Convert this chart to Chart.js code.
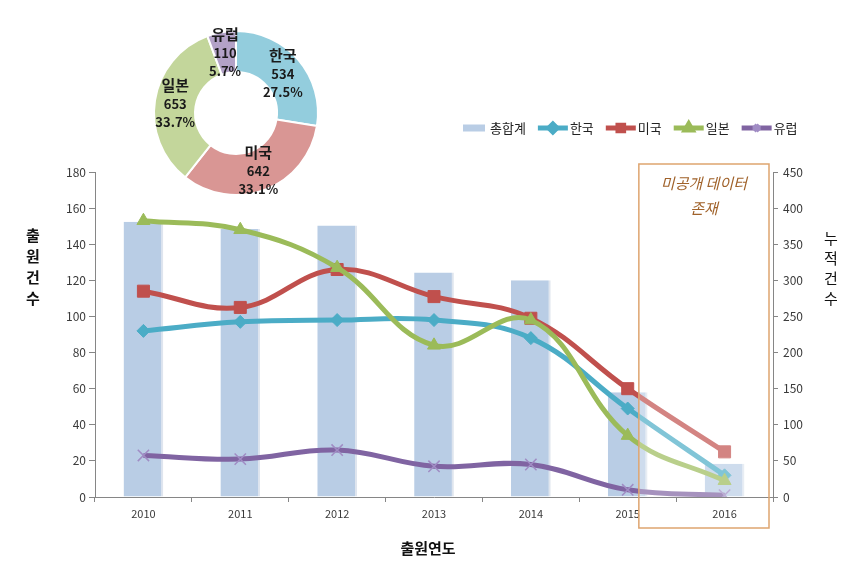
<!DOCTYPE html>
<html><head><meta charset="utf-8">
<script src="https://cdn.jsdelivr.net/npm/chart.js@4.4.1/dist/chart.umd.min.js"></script>
<style>
html,body{margin:0;padding:0;background:#fff;}
#wrap{position:relative;width:856px;height:569px;overflow:hidden;}
#main{position:absolute;left:0;top:0;}
#pie{position:absolute;left:116px;top:3px;}
</style></head><body>
<div id="wrap"><canvas id="main" width="856" height="569"></canvas><canvas id="pie" width="240" height="220"></canvas></div>
<script>
// ---- data ----
const years = ['2010','2011','2012','2013','2014','2015','2016'];
const seriesNames = ['총합계','한국','미국','일본','유럽'];
const totalCounts = [381,371,376,311,300,145,46];
const korea  = [92,97,98,98,88,49,12];
const usa    = [114,105,126,111,99,60,25];
const japan  = [153,148,127,84,98,34,9];
const europe = [23,21,26,17,18,4,1];
const pieLabels = ['한국','미국','일본','유럽'];
const pieValues = [534,642,653,110];
const leftTitle = '출원건수';
const rightTitle = '누적건수';
const xTitle = '출원연도';
const noteLines = ['미공개 데이터','존재'];

const FONT = '"Noto Sans CJK KR", "Noto Sans", sans-serif';
Chart.defaults.font.family = FONT;
const AXIS = '#868686';
const TICK = '#3a3a3a';
const COLORS = {bar:'#b9cde5', kr:'#4bacc6', us:'#c0504d', jp:'#9bbb59', eu:'#8064a2'};

const overlayPlugin = {
  id:'overlay',
  afterDatasetsDraw(chart){
    const {ctx, chartArea, scales} = chart;
    const x = scales.x;
    const step = x.getPixelForValue(1) - x.getPixelForValue(0);
    const left = x.getPixelForValue(5) + step*0.115;
    const right = chartArea.right - 4;
    const top = chartArea.top - 8;
    const bottom = chartArea.bottom + 31;
    ctx.save();
    ctx.fillStyle = 'rgba(255,255,255,0.3)';
    ctx.fillRect(left, top, right-left, chartArea.bottom - top);
    ctx.strokeStyle = '#dea56f';
    ctx.lineWidth = 1.5;
    ctx.strokeRect(left, top, right-left, bottom-top);
    ctx.fillStyle = '#a0622a';
    ctx.font = 'italic 15px ' + FONT;
    ctx.textAlign = 'center'; ctx.textBaseline = 'middle';
    const cx = (left+right)/2;
    ctx.fillText(noteLines[0], cx, top+19);
    ctx.fillText(noteLines[1], cx, top+44);
    ctx.restore();
  }
};

const legendPlugin = {
  id:'customLegend',
  afterDraw(chart){
    const ctx = chart.ctx;
    ctx.save();
    ctx.font = '13px ' + FONT;
    ctx.textBaseline = 'middle'; ctx.textAlign = 'left';
    let x = 463; const y = 128;
    chart.data.datasets.forEach(ds => {
      if (ds.type === 'bar') {
        ctx.fillStyle = ds.backgroundColor;
        ctx.fillRect(x, y-3.5, 22, 7);
        x += 27;
      } else {
        ctx.strokeStyle = ds.borderColor;
        ctx.lineWidth = 5;
        ctx.beginPath(); ctx.moveTo(x, y); ctx.lineTo(x+30, y); ctx.stroke();
        ctx.fillStyle = ds.pointBackgroundColor;
        ctx.strokeStyle = ds.pointBorderColor;
        Chart.helpers.drawPoint(ctx, {pointStyle: ds.pointStyle, radius: 4, rotation: 0, borderWidth: 1}, x+15, y);
        x += 32;
      }
      ctx.fillStyle = '#222';
      ctx.fillText(ds.label, x, y);
      x += ctx.measureText(ds.label).width + 12;
    });
    ctx.restore();
  }
};

const titlesPlugin = {
  id:'titles',
  afterDraw(chart){
    const {ctx, chartArea} = chart;
    ctx.save();
    ctx.fillStyle = '#111';
    ctx.textAlign = 'center'; ctx.textBaseline = 'middle';
    ctx.font = 'bold 15px ' + FONT;
    [...leftTitle].forEach((c,i) => ctx.fillText(c, 33, 235 + i*21));
    ctx.fillText(xTitle, (chartArea.left+chartArea.right)/2 - 6, 548);
    ctx.font = '15px ' + FONT;
    [...rightTitle].forEach((c,i) => ctx.fillText(c, 831, 238 + i*20));
    ctx.restore();
  }
};

new Chart(document.getElementById('main'), {
  type:'bar',
  data:{
    labels: years,
    datasets:[
      {type:'bar', label:seriesNames[0], data:totalCounts, yAxisID:'y2', backgroundColor:COLORS.bar,
       borderColor:'#dfe5ee', borderWidth:{top:0,right:2,bottom:0,left:0}, barPercentage:0.41, categoryPercentage:1, order:10},
      {type:'line', label:seriesNames[1], data:korea, yAxisID:'y', borderColor:COLORS.kr, backgroundColor:COLORS.kr,
       borderWidth:5, tension:0.4, pointStyle:'rectRot', pointRadius:6.5, pointBackgroundColor:COLORS.kr, pointBorderColor:COLORS.kr, pointBorderWidth:1, order:3},
      {type:'line', label:seriesNames[2], data:usa, yAxisID:'y', borderColor:COLORS.us, backgroundColor:COLORS.us,
       borderWidth:5, tension:0.4, pointStyle:'rect', pointRadius:8.5, pointBackgroundColor:COLORS.us, pointBorderColor:COLORS.us, pointBorderWidth:1, order:2},
      {type:'line', label:seriesNames[3], data:japan, yAxisID:'y', borderColor:COLORS.jp, backgroundColor:COLORS.jp,
       borderWidth:5, tension:0.4, pointStyle:'triangle', pointRadius:7.5, pointBackgroundColor:COLORS.jp, pointBorderColor:COLORS.jp, pointBorderWidth:1, order:1},
      {type:'line', label:seriesNames[4], data:europe, yAxisID:'y', borderColor:COLORS.eu, backgroundColor:COLORS.eu,
       borderWidth:5, tension:0.4, pointStyle:'crossRot', pointRadius:8, pointBackgroundColor:'#a08cc4', pointBorderColor:'#a08cc4', pointBorderWidth:1.5, order:4}
    ]
  },
  options:{
    responsive:false, animation:false,
    layout:{padding:{top:172,left:0,right:0,bottom:0}},
    plugins:{legend:{display:false}, tooltip:{enabled:false}},
    scales:{
      x:{grid:{display:true, drawOnChartArea:false, drawTicks:true, tickLength:5, color:AXIS, offset:true},
         border:{color:AXIS}, ticks:{font:{size:11}, color:TICK, padding:5},
         afterFit(s){ s.height = 72; }},
      y:{position:'left', min:0, max:180,
         ticks:{stepSize:20, font:{size:12}, color:TICK, padding:3},
         grid:{drawOnChartArea:false, tickLength:6, color:AXIS}, border:{color:AXIS},
         afterFit(s){ s.width = 95; }},
      y2:{position:'right', min:0, max:450,
         ticks:{stepSize:50, font:{size:12}, color:TICK, padding:5},
         grid:{drawOnChartArea:false, tickLength:5, color:AXIS}, border:{color:AXIS},
         afterFit(s){ s.width = 83; }}
    }
  },
  plugins:[overlayPlugin, legendPlugin, titlesPlugin]
});

const pieLabelPlugin = {
  id:'pieLabels',
  afterDatasetsDraw(chart){
    const ctx = chart.ctx;
    const meta = chart.getDatasetMeta(0);
    const data = chart.data.datasets[0].data;
    const sum = data.reduce((a,b)=>a+b,0);
    ctx.save();
    ctx.fillStyle = '#1a1a1a';
    ctx.textAlign = 'center'; ctx.textBaseline = 'middle';
    meta.data.forEach((arc,i) => {
      const p = arc.getCenterPoint();
      ctx.font = 'bold 15px ' + FONT;
      ctx.fillText(chart.data.labels[i], p.x, p.y - 18);
      ctx.font = 'bold 13px ' + FONT;
      ctx.fillText(String(data[i]), p.x, p.y + 1);
      ctx.fillText((data[i]/sum*100).toFixed(1) + '%', p.x, p.y + 19);
    });
    ctx.restore();
  }
};

new Chart(document.getElementById('pie'), {
  type:'doughnut',
  data:{labels:pieLabels, datasets:[{data:pieValues, backgroundColor:['#93cddd','#d99694','#c3d69b','#b3a2c7'], borderColor:'#fff', borderWidth:2}]},
  options:{responsive:false, animation:false, cutout:'50%', layout:{padding:27},
    plugins:{legend:{display:false}, tooltip:{enabled:false}}},
  plugins:[pieLabelPlugin]
});
</script>
</body></html>
